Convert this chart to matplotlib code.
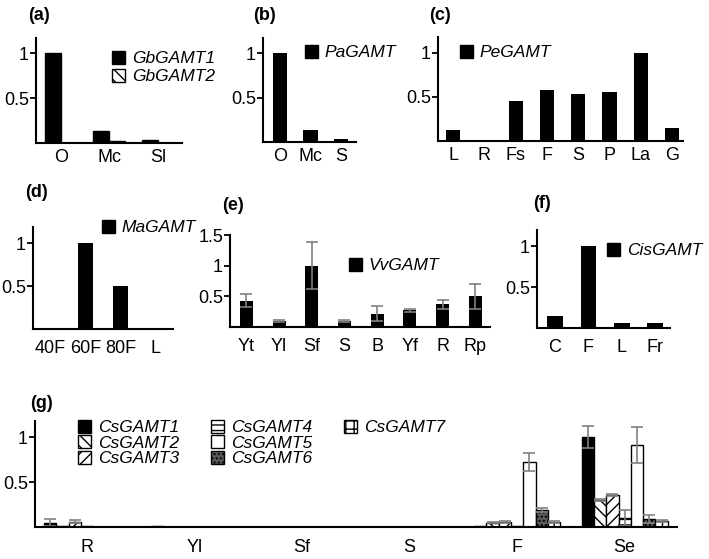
import matplotlib
matplotlib.use("Agg")
import matplotlib.pyplot as plt
from matplotlib.patches import Patch
import numpy as np

plt.rcParams['font.family'] = ['Liberation Sans', 'DejaVu Sans']
plt.rcParams['hatch.linewidth'] = 1.0

W, H = 709, 559

# (a) Ginkgo
a_cats = ['O', 'Mc', 'Sl']
a_gb1 = [1.0, 0.13, 0.03]
a_gb2 = [0.0, 0.02, 0.0]
# (b)
b_cats = ['O', 'Mc', 'S']
b_pa = [1.0, 0.14, 0.03]
# (c)
c_cats = ['L', 'R', 'Fs', 'F', 'S', 'P', 'La', 'G']
c_pe = [0.12, 0.0, 0.45, 0.58, 0.53, 0.56, 1.0, 0.15]
# (d)
d_cats = ['40F', '60F', '80F', 'L']
d_ma = [0.0, 1.0, 0.5, 0.0]
# (e)
e_cats = ['Yt', 'Yl', 'Sf', 'S', 'B', 'Yf', 'R', 'Rp']
e_vv = [0.43, 0.1, 1.0, 0.1, 0.22, 0.27, 0.37, 0.5]
e_err = [0.1, 0.02, 0.38, 0.02, 0.12, 0.03, 0.07, 0.2]
# (f)
f_cats = ['C', 'F', 'L', 'Fr']
f_cis = [0.15, 1.0, 0.06, 0.06]
# (g) Camellia
g_cats = ['R', 'Yl', 'Sf', 'S', 'F', 'Se']
cs1 = [0.05, 0.01, 0, 0, 0.01, 1.0]
cs2 = [0.01, 0, 0, 0, 0.05, 0.3]
cs3 = [0.06, 0, 0, 0, 0.06, 0.36]
cs4 = [0.01, 0, 0, 0, 0.01, 0.1]
cs5 = [0, 0, 0, 0, 0.72, 0.91]
cs6 = [0, 0, 0, 0, 0.19, 0.09]
cs7 = [0, 0, 0, 0, 0.06, 0.07]
cs1_err = [0.04, 0, 0, 0, 0, 0.12]
cs2_err = [0, 0, 0, 0, 0.01, 0.01]
cs3_err = [0.02, 0, 0, 0, 0.01, 0.01]
cs4_err = [0, 0, 0, 0, 0, 0.09]
cs5_err = [0, 0, 0, 0, 0.1, 0.2]
cs6_err = [0, 0, 0, 0, 0.02, 0.04]
cs7_err = [0, 0, 0, 0, 0.01, 0.01]

FS = 13
LFS = 12.5
fig = plt.figure(figsize=(W/100, H/100), dpi=100)


def make_ax(left, top, right, base, ylim, xlim, pad=4, yt=(0.5, 1)):
    ax = fig.add_axes([left/W, 1 - base/H, (right - left)/W, (base - top)/H])
    ax.spines[['top', 'right']].set_visible(False)
    ax.spines[['left', 'bottom']].set_linewidth(1.5)
    ax.set_ylim(0, ylim)
    ax.set_xlim(*xlim)
    ax.set_yticks(yt)
    ax.set_yticklabels(['%g' % t for t in yt])
    ax.tick_params(axis='y', length=4, width=1.3, labelsize=FS, pad=1)
    ax.tick_params(axis='x', length=0, labelsize=FS, pad=pad)
    return ax


def small_legend(ax, handles, labels, x, y, spacing=0.15):
    ax.legend(handles, labels, loc='upper left', bbox_to_anchor=(x/W, 1 - y/H),
              bbox_transform=fig.transFigure, frameon=False, borderpad=0,
              borderaxespad=0, handlelength=0.75, handleheight=0.75,
              handletextpad=0.4, labelspacing=spacing,
              prop={'style': 'italic', 'size': LFS})


def title(x, y, s):
    fig.text(x/W, 1 - y/H, s, fontsize=FS, fontweight='bold', va='center')


black = Patch(facecolor='black', edgecolor='black')

# (a)
ax = make_ax(36, 38, 182, 143, 1.17, (-0.35, 2.66))
x = np.arange(len(a_cats))
ax.bar(x, a_gb1, 0.33, color='black', edgecolor='black')
ax.bar(x + 0.33, a_gb2, 0.33, color='white', edgecolor='black', hatch='\\\\\\')
ax.set_xticks(x + 0.165)
ax.set_xticklabels(a_cats)
small_legend(ax, [black, Patch(facecolor='white', edgecolor='black', hatch='\\\\\\')],
             ['GbGAMT1', 'GbGAMT2'], 112, 51)
title(28, 15, '(a)')

# (b)
ax = make_ax(263, 38, 356, 142, 1.17, (-0.56, 2.5))
x = np.arange(len(b_cats))
ax.bar(x, b_pa, 0.48, color='black')
ax.set_xticks(x)
ax.set_xticklabels(b_cats)
small_legend(ax, [black], ['PaGAMT'], 305, 45)
title(253, 15, '(b)')

# (c)
ax = make_ax(438, 37, 683, 141, 1.18, (-0.48, 7.35))
x = np.arange(len(c_cats))
ax.bar(x, c_pe, 0.45, color='black')
ax.set_xticks(x)
ax.set_xticklabels(c_cats)
small_legend(ax, [black], ['PeGAMT'], 460, 45)
title(429, 15, '(c)')

# (d)
ax = make_ax(33, 227, 173, 329, 1.19, (-0.5, 3.5), pad=8)
x = np.arange(len(d_cats))
ax.bar(x, d_ma, 0.43, color='black')
ax.set_xticks(x)
ax.set_xticklabels(d_cats)
small_legend(ax, [black], ['MaGAMT'], 102, 220)
title(25, 193, '(d)')

# (e)
ax = make_ax(230, 235, 490, 327, 1.5, (-0.5, 7.45), pad=8, yt=(0.5, 1, 1.5))
x = np.arange(len(e_cats))
ax.bar(x, e_vv, 0.4, color='black')
ax.errorbar(x, e_vv, yerr=e_err, fmt='none', ecolor='#808080', elinewidth=1.2,
            capsize=4, capthick=1.2)
ax.set_xticks(x)
ax.set_xticklabels(e_cats)
small_legend(ax, [black], ['VvGAMT'], 349, 258)
title(222, 205, '(e)')

# (f)
ax = make_ax(537, 230, 670, 328, 1.2, (-0.54, 3.45), pad=8)
x = np.arange(len(f_cats))
ax.bar(x, f_cis, 0.47, color='black')
ax.set_xticks(x)
ax.set_xticklabels(f_cats)
small_legend(ax, [black], ['CisGAMT'], 607, 243)
title(533, 203, '(f)')

# (g)
ax = make_ax(35, 421, 677, 527, 1.18, (-0.14, 5.83), pad=9)
x = np.arange(len(g_cats))
w = 0.1145
g_series = [cs1, cs2, cs3, cs4, cs5, cs6, cs7]
g_errs = [cs1_err, cs2_err, cs3_err, cs4_err, cs5_err, cs6_err, cs7_err]
g_names = ['CsGAMT1', 'CsGAMT2', 'CsGAMT3', 'CsGAMT4', 'CsGAMT5', 'CsGAMT6', 'CsGAMT7']
g_face = ['black', 'white', 'white', 'white', 'white', '#5a5a5a', 'white']
g_hatch = [None, '\\\\\\', '///', '---', None, '....', '++']
handles = []
for j in range(7):
    xs = x + j * w
    ax.bar(xs, g_series[j], w, color=g_face[j], edgecolor='black', hatch=g_hatch[j],
           linewidth=1.0)
    err = np.array(g_errs[j])
    m = err > 0
    ax.errorbar(xs[m], np.array(g_series[j])[m], yerr=err[m], fmt='none',
                ecolor='#808080', elinewidth=1.2, capsize=4, capthick=1.2)
    handles.append(Patch(facecolor=g_face[j], edgecolor='black', hatch=g_hatch[j]))
ax.set_xticks(x + 3 * w)
ax.set_xticklabels(g_cats)
blank = Patch(visible=False)
ax.legend(handles + [blank, blank], g_names + ['', ''], ncol=3, loc='upper left',
          bbox_to_anchor=(78/W, 1 - 420/H), bbox_transform=fig.transFigure,
          frameon=False, borderpad=0, borderaxespad=0, handlelength=0.75,
          handleheight=0.75, handletextpad=0.4, labelspacing=0.0, columnspacing=1.85,
          prop={'style': 'italic', 'size': LFS})
title(30, 403, '(g)')

fig.savefig('out.png', dpi=100)
